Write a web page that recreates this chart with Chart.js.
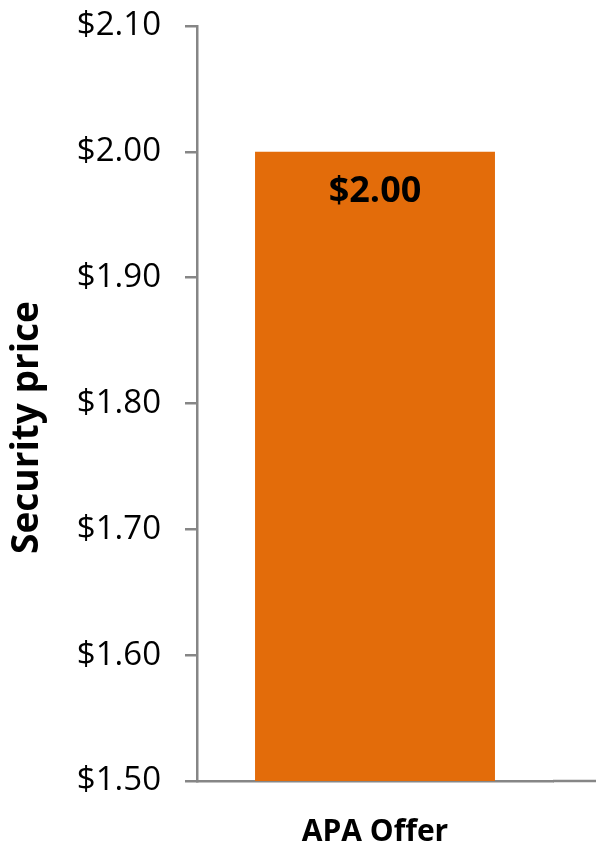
<!DOCTYPE html>
<html>
<head>
<meta charset="utf-8">
<script src="https://cdn.jsdelivr.net/npm/chart.js@4/dist/chart.umd.min.js"></script>
<style>
  body { margin: 0; background: #fff; }
  #wrap { width: 596px; height: 843px; }
</style>
</head>
<body>
<div id="wrap"><canvas id="chart" width="596" height="843"></canvas></div>
<script>
const categories = ['APA Offer'];
const prices = [2.00];
const yMin = 1.50;
const yMax = 2.10;
const yStep = 0.10;

const axisGray = '#868686';
const barOrange = '#E36C0A';
const fontFamily = '"Open Sans", sans-serif';

// bar value label, drawn just inside the top of the bar
const valueLabels = {
    id: 'valueLabels',
    afterDatasetsDraw(chart) {
        const ctx = chart.ctx;
        const meta = chart.getDatasetMeta(0);
        ctx.save();
        ctx.font = 'bold 36px ' + fontFamily;
        ctx.fillStyle = '#000';
        ctx.textAlign = 'center';
        ctx.textBaseline = 'middle';
        meta.data.forEach((bar, i) => {
            ctx.fillText('$' + prices[i].toFixed(2), bar.x, bar.y + 40);
        });
        ctx.restore();
    }
};

// the category axis line runs on to the right edge of the picture
const axisExtend = {
    id: 'axisExtend',
    afterDraw(chart) {
        const ctx = chart.ctx;
        const area = chart.chartArea;
        ctx.save();
        ctx.strokeStyle = axisGray;
        ctx.lineWidth = 2.5;
        ctx.beginPath();
        ctx.moveTo(area.right, area.bottom);
        ctx.lineTo(chart.width, area.bottom);
        ctx.stroke();
        ctx.restore();
    }
};

new Chart('chart', {
    type: 'bar',
    data: {
        labels: categories,
        datasets: [{
            data: prices,
            backgroundColor: barOrange,
            borderWidth: 0,
            barPercentage: 0.674,
            categoryPercentage: 1.0
        }]
    },
    plugins: [valueLabels, axisExtend],
    options: {
        responsive: false,
        animation: false,
        layout: {
            padding: { top: 26, right: 43, bottom: 0, left: 0 }
        },
        plugins: {
            legend: { display: false },
            tooltip: { enabled: false }
        },
        scales: {
            x: {
                grid: { display: false, drawTicks: false },
                border: { display: true, color: axisGray, width: 2.5 },
                ticks: {
                    color: '#000',
                    padding: 36,
                    font: { family: fontFamily, size: 30, weight: 'bold', lineHeight: 1.0 }
                },
                afterFit(scale) {
                    scale.height = 62;
                    scale.paddingLeft = 0;
                    scale.paddingRight = 0;
                }
            },
            y: {
                min: yMin,
                max: yMax,
                grid: {
                    drawOnChartArea: false,
                    color: axisGray,
                    lineWidth: 2.5,
                    tickLength: 12
                },
                border: { display: true, color: axisGray, width: 2.5 },
                ticks: {
                    stepSize: yStep,
                    color: '#000',
                    padding: 24,
                    font: { family: fontFamily, size: 33 },
                    callback: (value) => '$' + value.toFixed(2)
                },
                title: {
                    display: true,
                    // trailing spaces nudge the title a little down the axis, as in the original
                    text: 'Security price     ',
                    color: '#000',
                    padding: { top: 5, bottom: 0 },
                    font: { family: fontFamily, size: 37, weight: 'bold' }
                },
                afterFit(scale) {
                    scale.width = 197;
                    scale.paddingTop = 0;
                    scale.paddingBottom = 0;
                }
            }
        }
    }
});
</script>
</body>
</html>
